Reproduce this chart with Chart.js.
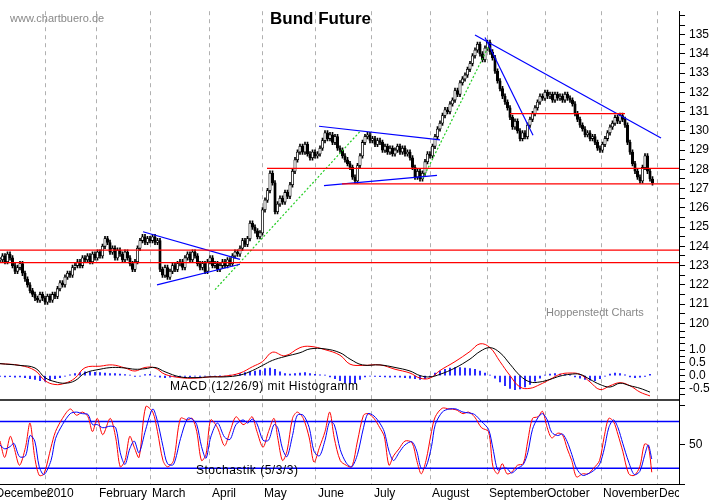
<!DOCTYPE html>
<html>
<head>
<meta charset="utf-8">
<script src="https://cdn.jsdelivr.net/npm/chart.js@4/dist/chart.umd.min.js"></script>
<style>
  body { margin: 0; background: #fff; font-family: Arial, "Liberation Sans", sans-serif; }
  #wrap { position: relative; width: 723px; height: 502px; }
  .txt { position: absolute; white-space: nowrap; }
</style>
</head>
<body>
<div id="wrap">
  <canvas id="chart" width="723" height="502"></canvas>
  <div class="txt" style="left:10px;top:12px;font-size:11px;color:#888;">www.chartbuero.de</div>
  <div class="txt" style="left:270px;top:9px;font-size:17px;font-weight:bold;">Bund Future</div>
  <div class="txt" style="left:546px;top:306px;font-size:11px;color:#888;">Hoppenstedt Charts</div>
  <div class="txt" style="left:170px;top:379px;font-size:12px;letter-spacing:0.5px;">MACD (12/26/9) mit Histogramm</div>
  <div class="txt" style="left:196px;top:463px;font-size:12px;letter-spacing:0.5px;">Stochastik (5/3/3)</div>
</div>
<script>
// Schlusskurse je Handelstag (Tag 0 = Anfang Dezember 2009)
const closes = [
  123.3,123.5,123.2,123.6,123.4,123.0,122.7,122.9,123.1,122.6,
  122.3,122.0,121.7,121.5,121.3,121.2,121.5,121.3,121.1,121.4,
  121.2,121.5,121.4,121.8,122.1,122.0,122.4,122.6,122.5,122.9,
  123.0,123.2,123.0,123.4,123.3,123.5,123.2,123.6,123.4,123.7,
  123.5,124.0,124.4,124.2,123.7,123.9,123.4,123.8,123.6,123.3,
  123.7,123.4,123.1,122.8,123.2,123.9,124.3,124.5,124.2,124.4,
  124.3,124.5,124.2,124.3,122.8,122.5,122.9,122.4,122.7,123.0,
  122.8,123.1,123.2,122.9,123.4,123.6,123.3,123.7,123.5,123.1,
  122.9,123.1,122.7,123.2,123.4,123.0,123.1,122.8,123.0,123.2,
  123.0,123.3,123.1,123.5,123.7,123.6,123.9,124.3,124.1,124.4,
  125.2,125.0,124.8,124.5,124.7,125.9,126.4,126.9,127.8,127.3,
  125.8,126.2,126.5,126.3,126.8,126.6,127.2,127.9,128.5,128.9,
  129.2,128.9,129.3,128.8,128.6,128.9,128.7,128.8,129.1,129.5,
  129.9,129.6,129.8,129.4,129.7,129.1,129.0,128.7,128.5,128.3,
  128.1,127.6,127.4,128.2,128.7,129.4,129.7,129.8,129.5,129.6,
  129.3,129.5,129.4,129.0,129.2,128.9,129.1,128.8,129.0,129.2,
  128.9,129.1,128.8,128.9,128.6,128.1,127.6,127.9,127.5,127.8,
  128.4,128.8,128.7,129.2,129.7,130.1,130.4,130.8,131.1,131.0,
  131.4,131.6,132.1,131.9,132.5,132.7,132.9,133.2,133.5,133.9,
  134.2,134.5,134.0,133.7,134.3,134.6,134.1,133.8,133.1,132.6,
  132.2,131.8,131.5,131.2,130.7,130.2,130.5,130.0,129.6,129.9,
  129.7,130.3,130.6,130.9,131.2,131.5,131.8,131.7,132.0,131.8,
  131.9,131.6,131.9,131.7,131.8,131.6,131.9,131.7,131.6,131.4,
  130.9,130.6,130.3,130.1,129.8,129.9,129.6,129.7,129.4,129.1,
  129.0,129.3,129.6,129.9,130.2,130.4,130.7,130.5,130.8,130.6,
  130.3,129.4,128.9,128.3,127.9,127.6,127.4,128.1,128.7,127.9,
  127.5,127.3
];

// MACD (Tag, MACD-Linie rot, Signal schwarz)
const macdDays = [0,8,14,18,22,26,30,34,40,45,50,54,58,62,66,72,78,84,90,96,101,105,109,114,120,124,130,136,140,145,152,158,164,168,172,176,182,188,192,196,200,204,208,212,216,220,224,228,232,236,240,244,248,252,256,260];
const macdLine = [0.47,0.40,0.20,-0.20,-0.35,-0.30,-0.10,0.31,0.37,0.42,0.30,0.18,0.32,0.30,0.05,-0.08,-0.10,-0.05,-0.02,0.10,0.35,0.55,0.92,0.78,1.10,1.15,1.02,0.80,0.45,0.40,0.42,0.25,0.10,-0.10,-0.10,0.20,0.55,0.95,1.25,1.10,0.55,0.00,-0.45,-0.50,-0.35,-0.15,0.05,0.10,0.05,-0.25,-0.55,-0.40,-0.28,-0.40,-0.65,-0.80];
const signalLine = [0.47,0.40,0.30,-0.08,-0.24,-0.30,-0.20,0.10,0.25,0.32,0.30,0.25,0.27,0.32,0.15,-0.05,-0.08,-0.05,-0.05,0.02,0.20,0.40,0.60,0.75,0.90,1.05,1.05,0.90,0.65,0.42,0.42,0.32,0.18,0.00,-0.05,0.05,0.30,0.65,0.95,1.10,0.90,0.45,0.00,-0.25,-0.25,-0.15,-0.02,0.05,0.05,-0.15,-0.35,-0.45,-0.30,-0.40,-0.50,-0.65];
// Histogramm, jeder zweite Tag
const histValues = [
  -0.03,-0.05,-0.04,-0.06,-0.05,-0.08, -0.12,-0.15,-0.2,-0.22,-0.18,-0.12,
  -0.08,-0.02,0.03,0.08,0.12,0.15, 0.14,0.13,0.12,0.1,0.08,0.08,
  0.06,0.04,0.02,-0.03,-0.02,0.04, 0.05,-0.02,-0.06,-0.08,-0.06,-0.04,
  -0.05,-0.03,-0.04,-0.02,-0.03,-0.02, -0.03,-0.02,-0.01,-0.02,0.02,0.05,
  0.08,0.12,0.15,0.18,0.22,0.28, 0.3,0.25,0.15,0.08,0.06,0.08,
  0.1,0.12,0.08,0.05,0.03,0.02, -0.05,-0.12,-0.2,-0.28,-0.32,-0.3,
  -0.15,-0.05,-0.02,-0.03,-0.04,-0.05, -0.06,-0.05,-0.06,-0.08,-0.1,-0.12,
  -0.15,-0.12,-0.05,0.1,0.18,0.25, 0.3,0.32,0.32,0.3,0.28,0.25,
  0.18,0.1,0.02,-0.1,-0.25,-0.4, -0.5,-0.55,-0.52,-0.45,-0.35,-0.22,
  -0.1,0.02,0.06,0.08,0.06,0.04, 0.02,-0.05,-0.1,-0.15,-0.18,-0.2,
  -0.12,-0.02,0.06,0.1,0.08,0.03, -0.05,-0.08,-0.06,-0.03,0.05
];

// Stochastik
const stochDays = [0,1.9,4.1,5.6,7.8,10.2,12,13.9,15.7,17.6,20.4,22.2,25,28.1,30.6,33,35.2,37,38.9,41.1,
  44.1,46.3,48.1,50,51.9,53.7,55.6,58.3,61.1,63,65.2,67,69.4,72.2,75,76.9,78.7,80.6,82.4,84.3,
  87,89.8,92,94.4,97.2,99.1,100.9,102.8,105.2,107.4,109.6,111.1,113,114.8,117,118.9,121.3,123.7,125.6,127.8,
  130,131.9,133.7,136.1,138.5,140.7,143,145.4,147.2,149.6,151.9,153.7,155.6,157.4,159.6,162,164.8,166.7,168.5,170.4,
  172.6,174.1,176.9,179.6,182.4,185.2,187.4,189.8,192.6,195.4,197.2,199.1,200.9,202.8,204.6,207,209.3,211.1,213,215.2,
  217,218.9,220.7,223.1,225,226.9,228.7,230.6,233,235.2,237.4,239.8,241.7,243.5,245.4,247.2,249.1,251.5,253.7,255.9,
  257.8,259.3,260.7];
const stochK = [55,34,61,47,24,47,78,34,11,13,47,67,84,96,88,92,86,67,84,63,
  84,59,22,30,61,47,34,99,92,67,30,22,30,84,82,84,67,30,38,82,
  72,49,67,86,76,80,86,67,47,67,84,59,30,42,84,92,84,59,28,47,
  67,92,59,30,24,22,55,88,90,84,72,61,24,36,45,55,53,30,13,30,
  67,86,97,96,95,90,92,86,72,67,22,13,26,13,15,24,26,55,84,86,
  93,72,59,65,63,45,30,9,13,13,20,30,61,84,80,63,42,13,11,22,
  51,49,15];
const stochD = [50,45,48,52,35,36,62,55,22,12,30,58,76,90,92,90,89,76,76,72,
  74,72,40,25,45,55,40,70,96,80,48,26,25,58,84,83,76,48,33,60,
  78,60,57,76,82,78,83,77,56,56,76,72,45,35,62,88,88,72,42,36,
  56,80,76,44,27,22,38,72,90,87,78,67,42,30,40,50,54,42,20,22,
  48,76,92,96,96,92,91,89,80,70,45,18,20,20,14,20,25,40,70,85,
  90,82,66,62,64,54,38,20,11,13,17,25,45,72,82,72,52,28,12,16,
  36,50,32];
const stochBands = [80, 20];

// Monate (Tag des Monatsbeginns) und Beschriftung
const monthDays = [18,38.8,60,84,104.8,126.4,148.8,172,194.8,218,240.4,262.8];
const monthLabels = ['December','2010','February','March','April','May','June','July','August','September','October','November','December'];
const labelDays = [-2.6,18,38.8,60,84,104.8,126.4,148.8,172,194.8,218,240.4,262.8];

// Linien im Kurschart: [Tag1, Kurs1, Tag2, Kurs2]
const redLines = [[0,123.8,272,123.8],[0,123.15,272,123.15],[106.8,128.05,272,128.05],[136.8,127.25,272,127.25],[204,130.9,250,130.9]];
const blueLines = [[57.2,124.76,96,123.32],[62.8,122.0,96,123.07],[127.6,130.24,176,129.53],[129.6,127.15,174.8,127.69],[190,134.98,264.4,129.63],[194,134.85,213.2,129.77]];
const greenLines = [[86,121.75,144,129.97],[169.2,127.54,195.6,134.44]];

const wicks = [], bodies = [], bodyColors = [];
closes.forEach((c, i) => {
  const o = i > 0 ? closes[i - 1] : c;
  wicks.push({ x: i, y: [Math.min(o, c) - 0.12, Math.max(o, c) + 0.12] });
  bodies.push({ x: i, y: [o, c] });
  bodyColors.push(c >= o ? '#fff' : '#000');
});

const segDatasets = (segs, color, dash) => segs.map(s => ({
  type: 'line', yAxisID: 'y', data: [{ x: s[0], y: s[1] }, { x: s[2], y: s[3] }],
  borderColor: color, borderWidth: 1.2, borderDash: dash || [], pointRadius: 0, order: 0
}));

const fixWidth = w => (scale) => { scale.width = w; };

const extrasPlugin = {
  id: 'extras',
  afterDraw(chart) {
    const { ctx, chartArea, scales } = chart;
    ctx.save();
    // Trennlinie zwischen MACD und Stochastik
    ctx.strokeStyle = '#000';
    ctx.lineWidth = 1.5;
    ctx.beginPath();
    ctx.moveTo(0, scales.s.top);
    ctx.lineTo(chartArea.right, scales.s.top);
    ctx.stroke();
    // Monatsbeschriftung
    ctx.beginPath();
    ctx.rect(0, chartArea.bottom, chartArea.right, 30);
    ctx.clip();
    ctx.font = '12px Arial, "Liberation Sans", sans-serif';
    ctx.fillStyle = '#000';
    ctx.textBaseline = 'middle';
    monthLabels.forEach((m, i) => {
      ctx.fillText(m, scales.x.getPixelForValue(labelDays[i]) + 2, chartArea.bottom + 10);
    });
    ctx.restore();
  }
};

const tickFont = { size: 12, family: 'Arial' };

new Chart(document.getElementById('chart'), {
  type: 'bar',
  data: {
    datasets: [
      ...segDatasets(redLines, '#ff0000'),
      ...segDatasets(blueLines, '#0000ff'),
      ...segDatasets(greenLines, '#22cc22', [2, 2]),
      { yAxisID: 'y', data: wicks, backgroundColor: '#000', barThickness: 1, grouped: false, order: 2 },
      { yAxisID: 'y', data: bodies, backgroundColor: bodyColors, borderColor: '#000', borderWidth: 0.8,
        borderSkipped: false, barThickness: 2.5, minBarLength: 1, grouped: false, order: 1 },
      { yAxisID: 'm', data: histValues.map((v, k) => ({ x: 2 * k, y: v })), backgroundColor: '#0000ff',
        barThickness: 1, grouped: false, order: 3 },
      { type: 'line', yAxisID: 'm', data: macdDays.map((d, i) => ({ x: d, y: signalLine[i] })),
        borderColor: '#000', borderWidth: 1, pointRadius: 0, tension: 0.4, order: 0 },
      { type: 'line', yAxisID: 'm', data: macdDays.map((d, i) => ({ x: d, y: macdLine[i] })),
        borderColor: '#ff0000', borderWidth: 1, pointRadius: 0, tension: 0.4, order: 0 },
      ...stochBands.map(b => ({ type: 'line', yAxisID: 's', data: [{ x: 0, y: b }, { x: 272, y: b }],
        borderColor: '#0000ff', borderWidth: 1.5, pointRadius: 0, order: 5 })),
      { type: 'line', yAxisID: 's', data: stochDays.map((d, i) => ({ x: d, y: stochD[i] })),
        borderColor: '#0000ff', borderWidth: 1, pointRadius: 0, tension: 0.3, order: 0 },
      { type: 'line', yAxisID: 's', data: stochDays.map((d, i) => ({ x: d, y: stochK[i] })),
        borderColor: '#ff0000', borderWidth: 1, pointRadius: 0, tension: 0.3, order: 0 }
    ]
  },
  options: {
    responsive: false,
    animation: false,
    layout: { padding: 0 },
    plugins: { legend: { display: false }, tooltip: { enabled: false } },
    scales: {
      x: {
        type: 'linear', min: 0, max: 271.6, offset: false,
        afterBuildTicks: (scale) => { scale.ticks = monthDays.map(v => ({ value: v })); },
        afterFit: (scale) => { scale.height = 18; },
        ticks: { display: false },
        grid: { color: '#b0b0b0', drawTicks: false, offset: false },
        border: { color: '#000', dash: [4, 4] }
      },
      y: {
        position: 'right', stack: 'panels', stackWeight: 325, min: 119.72, max: 136.22,
        afterBuildTicks: (scale) => { const t = []; for (let v = 120; v <= 136; v += 0.5) t.push({ value: v }); scale.ticks = t; },
        afterFit: fixWidth(44),
        ticks: { color: '#000', font: tickFont, padding: 4, autoSkip: false,
          callback: (v) => (Number.isInteger(v) && v <= 135) ? String(v) : '' },
        grid: { drawOnChartArea: false, tickLength: 6, color: '#000' },
        border: { color: '#000' }
      },
      m: {
        position: 'right', stack: 'panels', stackWeight: 73, min: -0.96, max: 1.846,
        afterBuildTicks: (scale) => { const t = []; for (let v = -0.75; v <= 1.75; v += 0.25) t.push({ value: v }); scale.ticks = t; },
        afterFit: fixWidth(44),
        ticks: { color: '#000', font: tickFont, padding: 4, autoSkip: false,
          callback: function (v, idx, ticks) {
            const val = ticks[idx].value;
            return (Math.abs(val * 2 - Math.round(val * 2)) < 1e-6 && val <= 1) ? val.toFixed(1) : '';
          } },
        grid: { drawOnChartArea: false, tickLength: 6, color: '#000' },
        border: { color: '#000' }
      },
      s: {
        position: 'right', stack: 'panels', stackWeight: 86, min: 0, max: 107.5,
        afterBuildTicks: (scale) => { scale.ticks = [{ value: 0 }, { value: 50 }, { value: 100 }]; },
        afterFit: fixWidth(44),
        ticks: { color: '#000', font: tickFont, padding: 4, autoSkip: false,
          callback: (v) => v === 50 ? '50' : '' },
        grid: { drawOnChartArea: false, tickLength: 6, color: '#000' },
        border: { color: '#000' }
      }
    }
  },
  plugins: [extrasPlugin]
});
</script>
</body>
</html>
